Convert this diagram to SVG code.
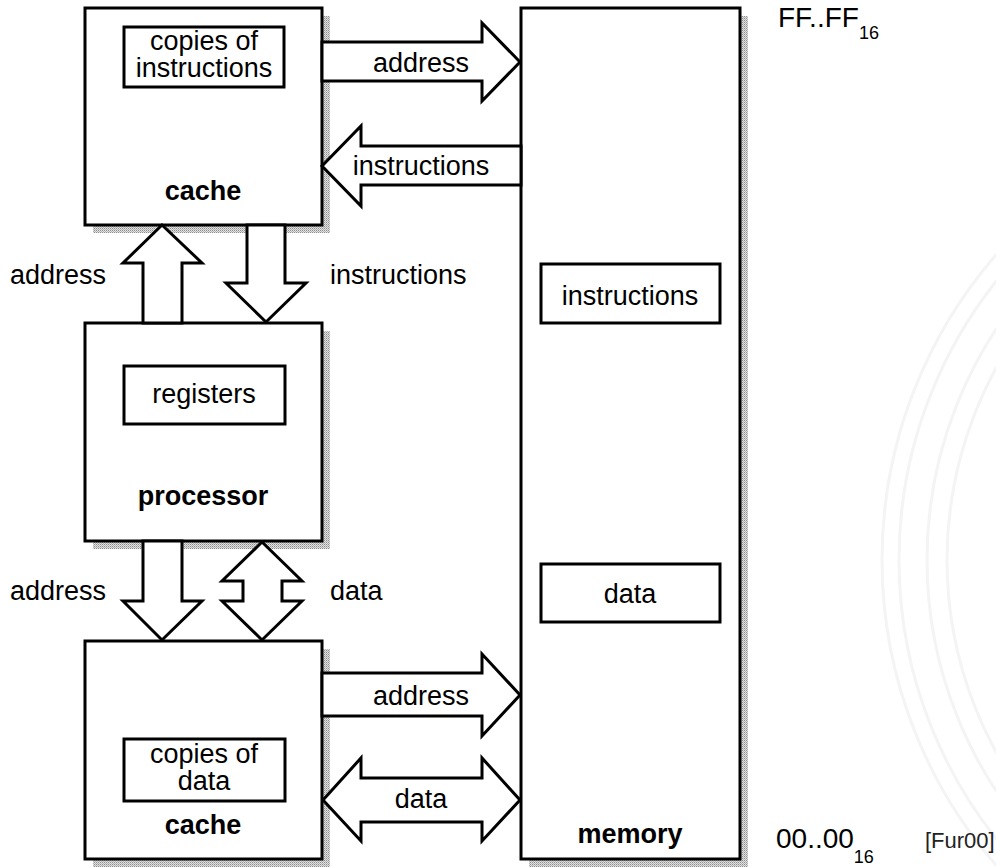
<svg xmlns="http://www.w3.org/2000/svg" width="996" height="867" viewBox="0 0 996 867">
<defs>
<pattern id="dots" width="2" height="2" patternUnits="userSpaceOnUse">
<rect width="2" height="2" fill="#e2e2e2"/>
<rect width="1" height="1" fill="#8c8c8c"/>
<rect x="1" y="1" width="1" height="1" fill="#b4b4b4"/>
</pattern>
</defs>
<style>
.shadow{fill:url(#dots);stroke:none}
.box{fill:#fff;stroke:#000;stroke-width:3}
.inner{fill:#fff;stroke:#000;stroke-width:3}
.arrow{fill:#fff;stroke:#000;stroke-width:3;stroke-linejoin:miter}
.t{font-family:"Liberation Sans",Arial,Helvetica,sans-serif;font-size:27px;fill:#000}
.big{font-size:28px}
.c{text-anchor:middle}
.b{font-weight:bold}
.sub{font-family:"Liberation Sans",Arial,Helvetica,sans-serif;font-size:18px;fill:#000}
.wm{fill:none;stroke:#f4f4f4;stroke-width:3}
</style>
<rect width="996" height="867" fill="#fff"/>
<g id="watermark">
<circle class="wm" cx="1347" cy="560" r="465"/>
<circle class="wm" cx="1347" cy="560" r="448"/>
<circle class="wm" cx="1347" cy="560" r="420"/>
<circle class="wm" cx="1347" cy="560" r="400"/>
</g>
<g id="cache-instr">
<rect class="shadow" x="93" y="16" width="237" height="217"/>
<rect class="box" x="85" y="8" width="237" height="217"/>
<rect class="inner" x="124" y="27" width="160" height="60"/>
<text class="t c" x="204" y="50">copies of<tspan x="204" dy="27">instructions</tspan></text>
<text class="t c b" x="203" y="200">cache</text>
</g>
<g id="processor">
<rect class="shadow" x="93" y="331" width="237" height="218"/>
<rect class="box" x="85" y="323" width="237" height="218"/>
<rect class="inner" x="124" y="366" width="161" height="58"/>
<text class="t c" x="204" y="403">registers</text>
<text class="t c b" x="203" y="505">processor</text>
</g>
<g id="cache-data">
<rect class="shadow" x="93" y="649" width="237" height="218"/>
<rect class="box" x="85" y="641" width="237" height="218"/>
<rect class="inner" x="124" y="739" width="161" height="62"/>
<text class="t c" x="204" y="763">copies of<tspan x="204" dy="27">data</tspan></text>
<text class="t c b" x="203" y="834">cache</text>
</g>
<g id="memory">
<rect class="shadow" x="529" y="16" width="219" height="851"/>
<rect class="box" x="521" y="8" width="219" height="851"/>
<rect class="inner" x="541" y="264" width="179" height="59"/>
<text class="t c" x="630" y="305">instructions</text>
<rect class="inner" x="541" y="564" width="179" height="58"/>
<text class="t c" x="630" y="603">data</text>
<text class="t c b" x="630" y="843">memory</text>
</g>
<g id="connectors">
<polygon class="arrow" points="322,42 482,42 482,23 520,62 482,101 482,81 322,81"/>
<text class="t c" x="421" y="72">address</text>
<polygon class="arrow" points="521,146 361,146 361,126 322,166 361,206 361,185 521,185"/>
<text class="t c" x="421" y="175">instructions</text>
<polygon class="arrow" points="143,323 143,263 123,263 162,225 202,263 182,263 182,323"/>
<text class="t" x="10" y="284">address</text>
<polygon class="arrow" points="247,225 247,283 226,283 266,322 306,283 285,283 285,225"/>
<text class="t" x="330" y="284">instructions</text>
<polygon class="arrow" points="143,541 143,601 123,601 162,640 202,601 182,601 182,541"/>
<text class="t" x="10" y="600">address</text>
<polygon class="arrow" points="262,542 302,581 282,581 282,601 302,601 262,640 222,601 243,601 243,581 222,581"/>
<text class="t" x="330" y="600">data</text>
<polygon class="arrow" points="322,673 482,673 482,654 520,695 482,736 482,716 322,716"/>
<text class="t c" x="421" y="705">address</text>
<polygon class="arrow" points="323,800 361,758 361,778 482,778 482,758 520,800 482,841 482,822 361,822 361,841"/>
<text class="t c" x="421" y="808">data</text>
</g>
<g id="labels">
<text class="t big" x="778" y="27">FF..FF<tspan class="sub" dy="12">16</tspan></text>
<text class="t big" x="776" y="848">00..00<tspan class="sub" dy="15">16</tspan></text>
<text x="925" y="848" font-family="'Liberation Sans',Arial,sans-serif" font-size="22" fill="#222">[Fur00]</text>
</g>
</svg>
